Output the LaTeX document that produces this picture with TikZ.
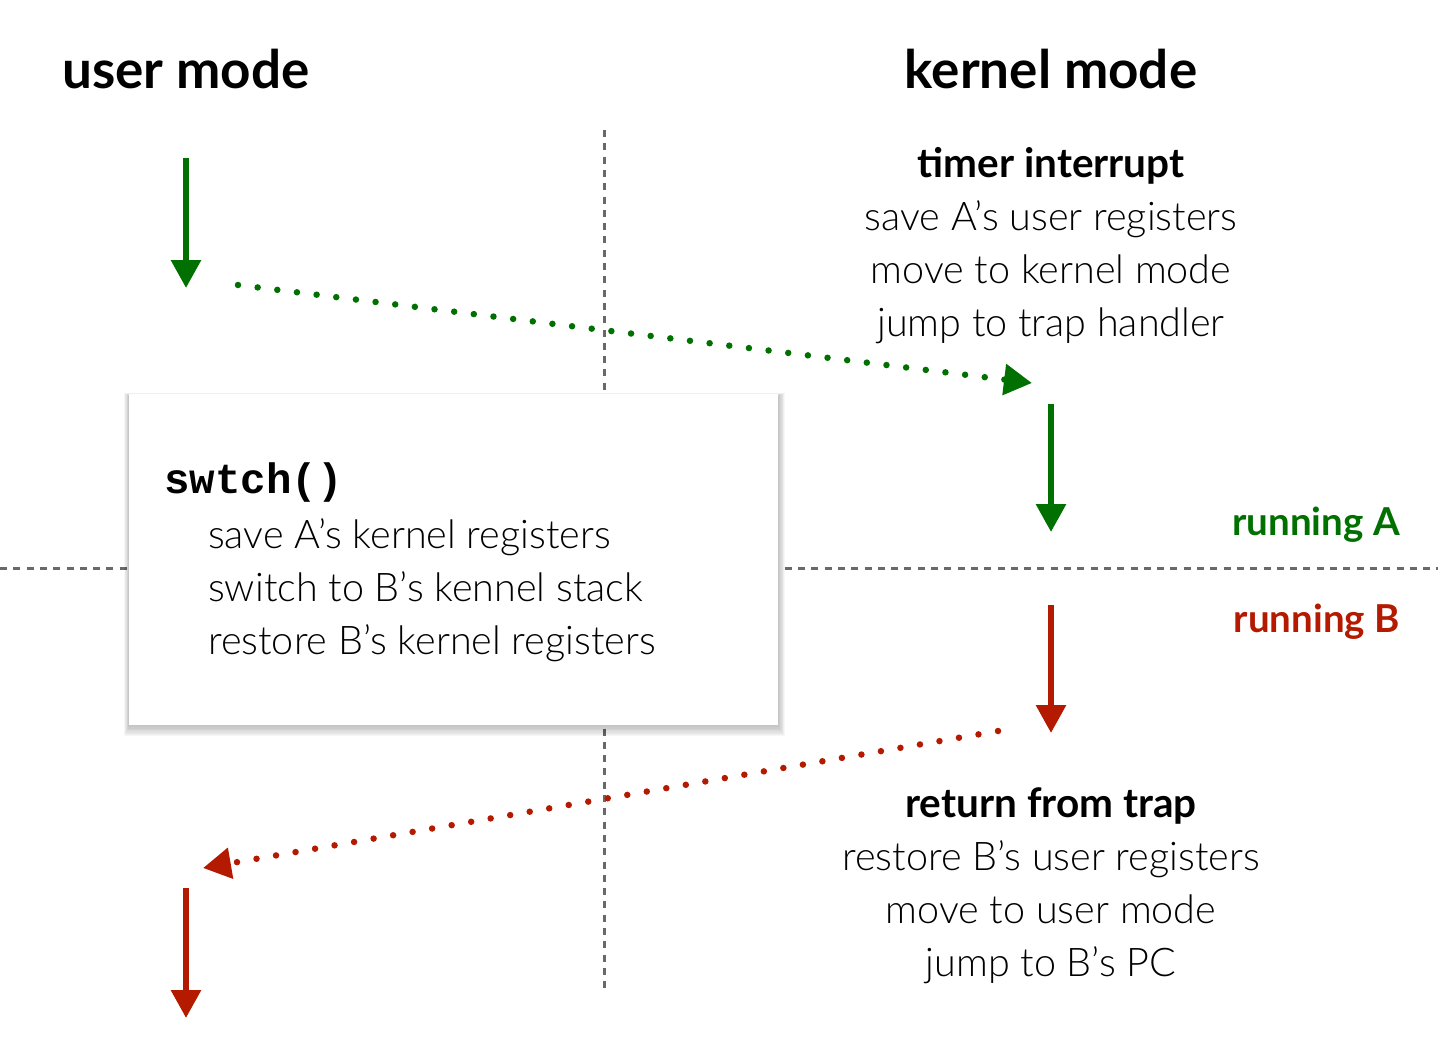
\documentclass[tikz,border=0pt]{standalone}
\usepackage{fontspec}
\IfFontExistsTF{Lato Light}{\setmainfont{Lato Light}[BoldFont=Lato Bold]}{\setmainfont{Lato}}
\newfontfamily\codefont{Liberation Mono}[BoldFont=Liberation Mono Bold]
\usetikzlibrary{arrows.meta,calc}
\definecolor{ugreen}{RGB}{0,112,0}
\definecolor{ured}{RGB}{180,26,0}
\definecolor{divgray}{RGB}{105,105,105}
\tikzset{
  x=1pt,y=-1pt,
  divider/.style={divgray,line width=3pt,dash pattern=on 7pt off 6.3pt},
  solidarrow/.style={line width=6pt,-{Triangle[width=29pt,length=28pt]}},
  dotarrow/.style={line width=6.5pt,line cap=round,dash pattern=on 0pt off 19.8pt,-{Triangle[width=30pt,length=28pt,line cap=butt]}},
  heading/.style={font=\fontsize{53}{60}\selectfont\bfseries,anchor=base},
  body/.style={font=\fontsize{39.5}{53}\selectfont,align=center,anchor=north},
  runlbl/.style={font=\fontsize{38.5}{43}\selectfont\bfseries,anchor=base east,inner sep=0pt},
}
\begin{document}
\begin{tikzpicture}
\useasboundingbox (0,0) rectangle (1438,1042);
% dividers
\coordinate (vtop) at (604,130);
\coordinate (vbot) at (604,990);
\coordinate (hleft) at (0,568);
\coordinate (hright) at (1438,568);
\draw[divider] (vtop) -- (vbot);
\draw[divider] (hleft) -- (hright);
% headings
\node[heading] (user) at (186,88) {user mode};
\node[heading] (kernel) at (1051,88) {kernel mode};
% timer interrupt text
\node[body] (timer) at (1051,144) {\textbf{\fontsize{40.5}{53}\selectfont timer interrupt}\\save A’s user registers\\move to kernel mode\\jump to trap handler};
\node[body] (ret) at (1051,784) {\textbf{\fontsize{40.5}{53}\selectfont return from trap}\\restore B’s user registers\\move to user mode\\jump to B’s PC};
% running labels
\node[runlbl,text=ugreen] (runA) at (1400,535) {running A};
\node[runlbl,text=ured] (runB) at (1400,632) {running B};
% swtch box with soft shadow
\coordinate (boxnw) at (129,394);
\coordinate (boxse) at (778,725);
\foreach \i in {1,...,8}{
  \fill[black,opacity=0.03] ($(boxnw)+(-\i*0.6,2-\i*0.4)$) rectangle ($(boxse)+(\i*0.9,1+\i*1.3)$);
}
\node[fill=white,minimum width=649pt,minimum height=331pt,anchor=north west,inner sep=0pt] (box) at (boxnw) {};
\node[anchor=base west,inner sep=0pt,font=\codefont\fontsize{42.5}{50}\selectfont\bfseries] (sw) at (164,493) {swtch()};
\node[anchor=north west,inner sep=0pt,align=left,font=\fontsize{39.5}{53}\selectfont] (swbody) at (208,518) {save A’s kernel registers\\switch to B’s kennel stack\\restore B’s kernel registers};
% green arrows
\coordinate (g1s) at (186,158);
\coordinate (g1e) at (186,288);
\draw[ugreen,solidarrow] (g1s) -- (g1e);
\coordinate (gds) at (238,285);
\coordinate (gde) at (1032,383);
\draw[ugreen,dotarrow] (gds) -- (gde);
\coordinate (g2s) at (1051,404);
\coordinate (g2e) at (1051,532);
\draw[ugreen,solidarrow] (g2s) -- (g2e);
% red arrows
\coordinate (r1s) at (1051,605);
\coordinate (r1e) at (1051,733);
\draw[ured,solidarrow] (r1s) -- (r1e);
\coordinate (rds) at (998,731);
\coordinate (rde) at (203,868);
\draw[ured,dotarrow] (rds) -- (rde);
\coordinate (r2s) at (186,888);
\coordinate (r2e) at (186,1018);
\draw[ured,solidarrow] (r2s) -- (r2e);
\end{tikzpicture}
\end{document}
